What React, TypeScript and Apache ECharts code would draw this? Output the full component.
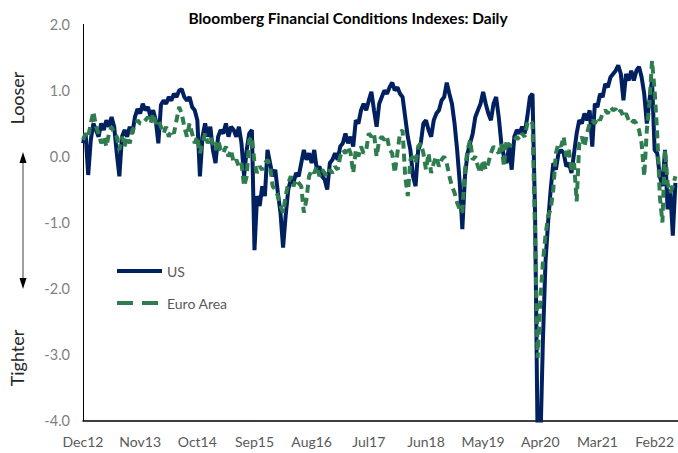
import React, { useEffect, useRef } from "react";
import * as echarts from "echarts";

// x-axis tick labels, one every 11 months starting Dec 2012
const xTickLabels = ["Dec12", "Nov13", "Oct14", "Sep15", "Aug16", "Jul17", "Jun18", "May19", "Apr20", "Mar21", "Feb22"];
const monthsPerTick = 11;
// observations are half a month apart, starting Dec 2012
const stepMonths = 0.5;
const seriesNames = ["US", "Euro Area"];

// Bloomberg US Financial Conditions Index
const usFci = [
  0.2, 0.35, -0.28, 0.25, 0.5, 0.4, 0.3, 0.5, 0.4, 0.55,
  0.45, 0.6, 0.45, 0.05, -0.3, 0.3, 0.4, 0.3, 0.45, 0.35,
  0.6, 0.72, 0.65, 0.8, 0.7, 0.75, 0.6, 0.7, 0.55, 0.2,
  0.78, 0.85, 0.8, 0.9, 0.85, 0.95, 0.9, 1.0, 1.02, 0.9,
  0.85, 0.9, 0.75, 0.7, 0.55, -0.3, 0.3, 0.5, 0.3, 0.45,
  0.1, -0.1, 0.3, 0.4, 0.35, 0.5, 0.3, 0.45, 0.4, 0.3,
  0.45, 0.2, -0.3, 0.1, 0.35, 0.4, -1.42, -0.6, -0.75, -0.45,
  -0.6, 0.1, -0.1, -0.3, -0.2, -0.55, -0.85, -1.38, -0.9, -0.5,
  -0.35, -0.4, -0.25, -0.3, -0.1, 0.1, -0.05, 0.05, -0.1, 0.1,
  -0.2, -0.15, -0.3, -0.35, -0.5, -0.1, -0.05, 0.05, -0.05, 0.15,
  0.2, 0.35, 0.2, 0.3, 0.15, 0.55, 0.5, 0.7, 0.8, 0.7,
  0.85, 0.98, 0.7, 0.45, 0.8, 0.9, 1.0, 0.95, 1.05, 1.12,
  1.0, 1.05, 0.95, 0.9, 0.6, 0.3, 0.1, -0.3, -0.45, 0.1,
  0.2, 0.5, 0.55, 0.4, 0.3, 0.55, 0.65, 0.7, 0.85, 0.9,
  1.12, 0.95, 0.8, 0.5, 0.1, -0.4, -1.1, -0.3, 0.05, 0.2,
  0.35, 0.6, 0.7, 0.8, 0.98, 0.8, 0.65, 0.55, 0.8, 0.9,
  0.6, 0.2, 0.0, -0.1, 0.15, -0.2, 0.3, 0.4, 0.35, 0.45,
  0.35, 0.6, 0.9, 0.95, -0.9, -4.4, -4.4, -2.8, -1.6, -1.0,
  -0.5, -0.1, -0.2, 0.05, 0.1, 0.05, -0.15, -0.1, -0.25, 0.05,
  0.35, 0.55, 0.5, 0.65, 0.55, 0.7, 0.15, 0.8, 0.75, 0.95,
  0.9, 1.1, 1.05, 1.2, 1.25, 1.3, 1.38, 1.25, 0.85, 1.25,
  1.15, 1.3, 1.15, 1.3, 1.36, 1.2, 0.95, 0.5, 0.85, 1.15,
  0.1, 0.05, -0.3, -0.45, 0.1, -0.8, -0.5, -1.2, -0.4,
];

// Bloomberg Euro Area Financial Conditions Index
const euroFci = [
  0.25, 0.35, 0.3, 0.5, 0.68, 0.45, 0.35, 0.2, 0.3, 0.15,
  0.35, 0.45, 0.35, 0.3, 0.1, 0.3, 0.15, 0.3, 0.2, 0.4,
  0.45, 0.55, 0.5, 0.5, 0.55, 0.6, 0.5, 0.65, 0.5, 0.55,
  0.45, 0.35, 0.45, 0.3, 0.4, 0.35, 0.55, 0.75, 0.65, 0.45,
  0.3, 0.5, 0.35, 0.2, 0.3, 0.05, 0.2, 0.35, 0.2, 0.3,
  0.2, 0.1, 0.25, 0.1, 0.05, 0.15, 0.0, 0.1, -0.1, -0.05,
  -0.15, -0.1, -0.45, -0.3, 0.25, 0.3, -0.1, -0.25, -0.15, -0.2,
  -0.1, -0.05, -0.15, -0.45, -0.5, -0.6, -0.75, -0.85, -0.6, -0.4,
  -0.3, -0.45, -0.35, -0.4, -0.45, -0.85, -0.65, -0.3, -0.2, -0.25,
  -0.15, -0.3, -0.2, -0.25, -0.3, -0.2, -0.25, -0.15, -0.2, 0.0,
  0.1, 0.05, 0.15, 0.05, -0.25, 0.1, 0.0, 0.15, 0.05, 0.1,
  0.35, 0.3, 0.35, 0.0, 0.25, 0.3, 0.25, 0.3, 0.1, 0.05,
  -0.25, 0.05, 0.35, 0.4, -0.3, -0.6, -0.05, 0.0, -0.1, 0.15,
  0.2, 0.05, -0.2, 0.05, -0.25, -0.1, 0.0, -0.15, -0.05, 0.0,
  -0.1, -0.3, -0.45, -0.55, -0.7, -0.8, -0.85, -0.2, 0.1, 0.25,
  -0.05, 0.0, -0.15, -0.25, -0.05, -0.2, -0.1, 0.05, 0.15, 0.1,
  0.05, 0.2, -0.15, 0.25, 0.15, 0.2, 0.25, 0.3, 0.25, 0.35,
  0.3, 0.5, 0.55, 0.5, -1.2, -3.05, -2.2, -1.6, -1.2, -0.9,
  -0.8, -0.5, 0.05, 0.2, 0.15, 0.3, 0.0, 0.1, -0.2, -0.1,
  -0.68, 0.2, 0.3, 0.15, 0.35, 0.5, 0.55, 0.5, 0.6, 0.55,
  0.65, 0.7, 0.65, 0.75, 0.7, 0.72, 0.65, 0.7, 0.6, 0.65,
  0.55, 0.5, 0.55, 0.5, 0.4, 0.2, -0.3, 0.4, 0.8, 1.45,
  1.0, 0.35, -0.6, -1.0, 0.1, -0.4, -0.55, -0.45, -0.3,
];

const US_COLOR = "#002060";
const EU_COLOR = "#2f7d4f";
const FONT = "Lato";
const EU_DASH = [8, 5];

export default function App() {
  const ref = useRef<HTMLDivElement>(null);

  useEffect(() => {
    if (!ref.current) return;
    const chart = echarts.init(ref.current, undefined, { renderer: "svg" });

    const toPairs = (arr: number[]) => arr.map((v, i) => [i * stepMonths, v]);

    const legendX = 117;
    const legendRows = [271, 303];

    const option = {
      animation: false,
      backgroundColor: "#ffffff",
      grid: { left: 83, right: 0, top: 24.5, bottom: 32.5, containLabel: false },
      xAxis: [
        {
          type: "value",
          min: 0,
          max: 114.5,
          interval: monthsPerTick,
          axisLine: { show: false },
          axisTick: { show: false },
          splitLine: { show: false },
          axisLabel: {
            showMaxLabel: false,
            color: "#595959",
            fontFamily: FONT,
            fontSize: 14,
            margin: 14,
            formatter: (v: number) => {
              const k = Math.round(v / monthsPerTick);
              return Math.abs(v - k * monthsPerTick) < 1e-6 && k < xTickLabels.length ? xTickLabels[k] : "";
            },
          },
        },
        {
          type: "value",
          min: 0,
          max: 114.5,
          position: "bottom",
          axisLine: { show: true, onZero: true, lineStyle: { color: "#000000", width: 1.5 } },
          axisTick: { show: false },
          axisLabel: { show: false },
          splitLine: { show: false },
        },
      ],
      yAxis: {
        type: "value",
        min: -4,
        max: 2,
        interval: 1,
        axisLine: { show: true, onZero: false, lineStyle: { color: "#000000", width: 1 } },
        axisTick: { show: false },
        splitLine: { show: false },
        axisLabel: {
          color: "#7f7f7f",
          fontFamily: FONT,
          fontSize: 14.5,
          margin: 13,
          formatter: (v: number) => v.toFixed(1),
        },
      },
      series: [
        {
          name: seriesNames[0],
          type: "line",
          xAxisIndex: 0,
          data: toPairs(usFci),
          symbol: "none",
          showSymbol: false,
          clip: true,
          lineStyle: { color: US_COLOR, width: 4 },
          itemStyle: { color: US_COLOR },
        },
        {
          name: seriesNames[1],
          type: "line",
          xAxisIndex: 0,
          data: toPairs(euroFci),
          symbol: "none",
          showSymbol: false,
          clip: true,
          lineStyle: { color: EU_COLOR, width: 4, type: EU_DASH },
          itemStyle: { color: EU_COLOR },
        },
      ],
      graphic: [
        {
          type: "text",
          x: 348,
          y: 18,
          style: {
            text: "Bloomberg Financial Conditions Indexes: Daily",
            fill: "#000000",
            font: `bold 15.5px ${FONT}`,
            textAlign: "center",
            textVerticalAlign: "middle",
          },
        },
        {
          type: "text",
          x: 17,
          y: 98,
          rotation: Math.PI / 2,
          style: {
            text: "Looser",
            fill: "#262626",
            font: `18px ${FONT}`,
            textAlign: "center",
            textVerticalAlign: "middle",
          },
        },
        {
          type: "text",
          x: 17,
          y: 358,
          rotation: Math.PI / 2,
          style: {
            text: "Tighter",
            fill: "#262626",
            font: `18px ${FONT}`,
            textAlign: "center",
            textVerticalAlign: "middle",
          },
        },
        {
          type: "line",
          shape: { x1: 23, y1: 160, x2: 23, y2: 282 },
          style: { stroke: "#404040", lineWidth: 1 },
        },
        {
          type: "polygon",
          shape: { points: [[23, 152], [19.5, 163], [26.5, 163]] },
          style: { fill: "#000000" },
        },
        {
          type: "polygon",
          shape: { points: [[23, 289], [19.5, 278], [26.5, 278]] },
          style: { fill: "#000000" },
        },
        // legend
        {
          type: "line",
          shape: { x1: legendX, y1: legendRows[0], x2: legendX + 45, y2: legendRows[0] },
          style: { stroke: US_COLOR, lineWidth: 4 },
        },
        {
          type: "text",
          x: legendX + 50,
          y: legendRows[0],
          style: {
            text: seriesNames[0],
            fill: "#595959",
            font: `14px ${FONT}`,
            textAlign: "left",
            textVerticalAlign: "middle",
          },
        },
        {
          type: "line",
          shape: { x1: legendX, y1: legendRows[1], x2: legendX + 45, y2: legendRows[1] },
          style: { stroke: EU_COLOR, lineWidth: 4, lineDash: [16, 9] },
        },
        {
          type: "text",
          x: legendX + 50,
          y: legendRows[1],
          style: {
            text: seriesNames[1],
            fill: "#595959",
            font: `14px ${FONT}`,
            textAlign: "left",
            textVerticalAlign: "middle",
          },
        },
      ],
    };

    chart.setOption(option as any);
    return () => {
      chart.dispose();
    };
  }, []);

  return (
    <div
      ref={ref}
      style={{ position: "absolute", left: 0, top: 0, width: 678, height: 453, background: "#fff" }}
    />
  );
}
